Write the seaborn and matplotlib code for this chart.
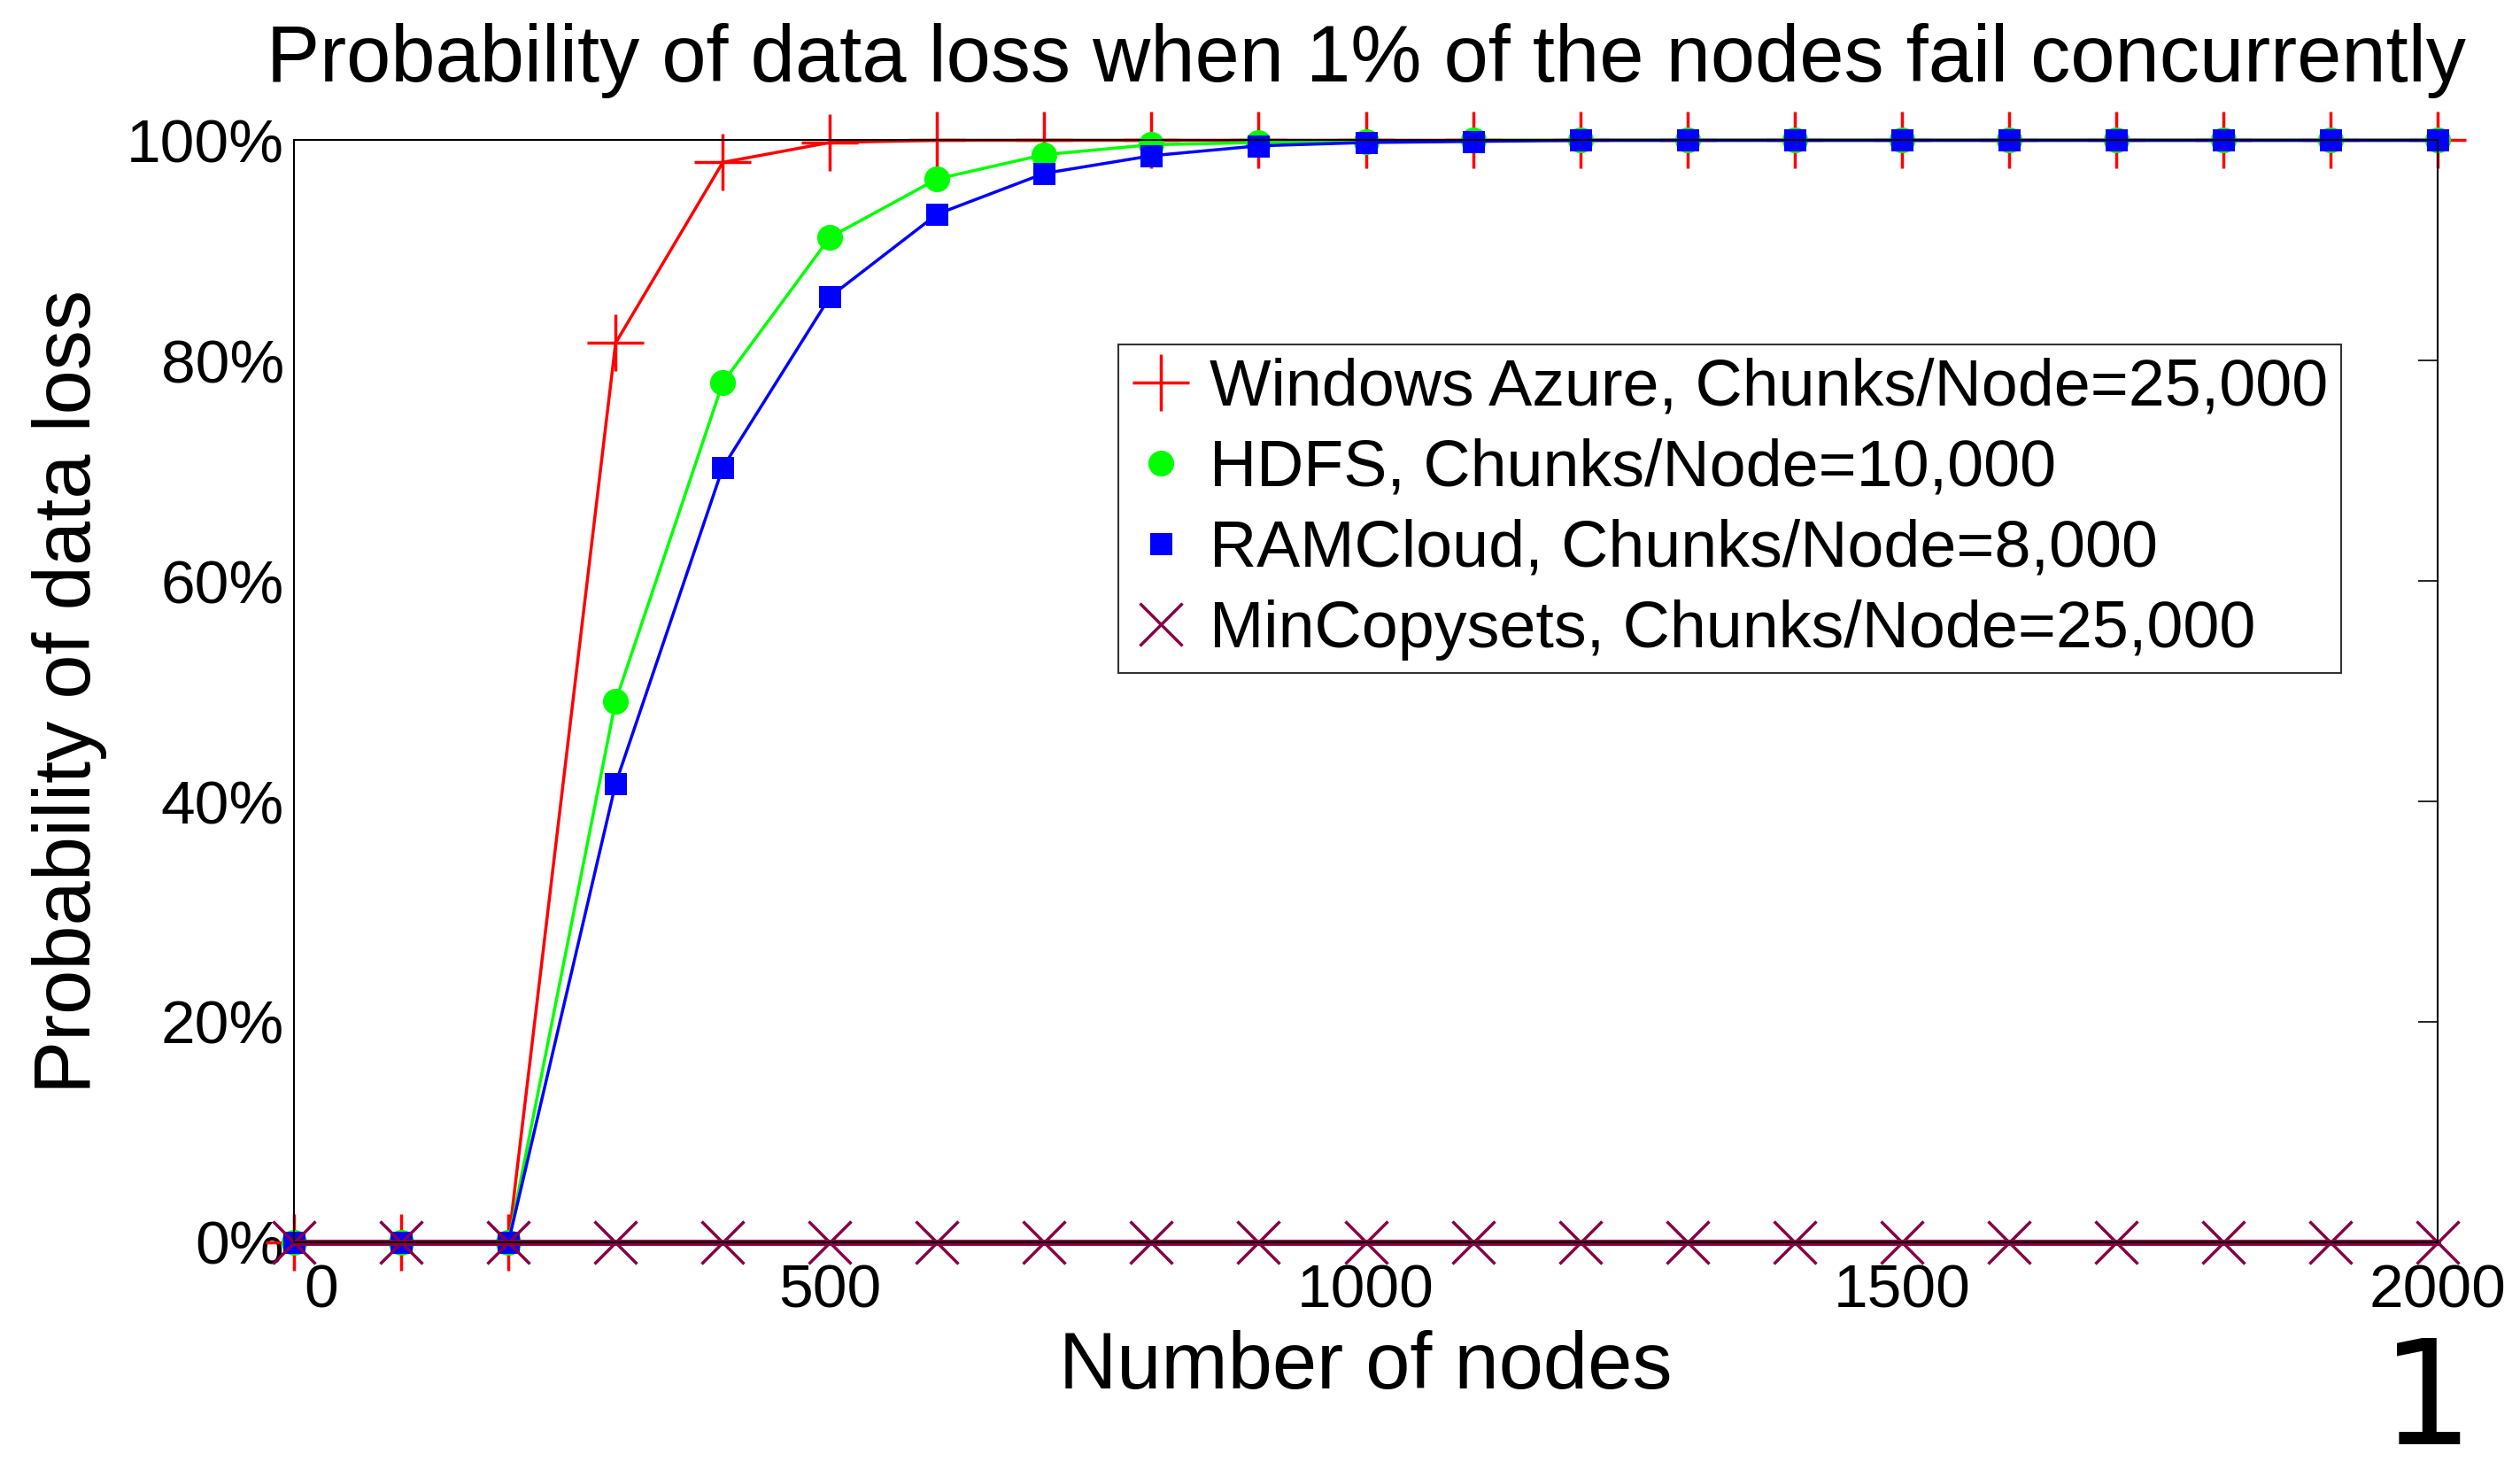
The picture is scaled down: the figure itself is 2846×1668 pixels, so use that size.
import matplotlib
matplotlib.use("Agg")
import matplotlib.pyplot as plt
from matplotlib.lines import Line2D
import matplotlib.transforms as mtransforms
import seaborn as sns
import numpy as np

# ---- data ----
nodes = [0, 100, 200, 300, 400, 500, 600, 700, 800, 900, 1000,
         1100, 1200, 1300, 1400, 1500, 1600, 1700, 1800, 1900, 2000]
azure = [0, 0, 0, 0.816, 0.980, 0.998, 1, 1, 1, 1, 1,
         1, 1, 1, 1, 1, 1, 1, 1, 1, 1]
hdfs = [0, 0, 0, 0.491, 0.780, 0.912, 0.965, 0.987, 0.996, 0.998, 0.999,
        1, 1, 1, 1, 1, 1, 1, 1, 1, 1]
ramcloud = [0, 0, 0, 0.416, 0.703, 0.858, 0.933, 0.970, 0.986, 0.995, 0.998,
            0.999, 1, 1, 1, 1, 1, 1, 1, 1, 1]
mincopysets = [0] * 21

series_labels = ["Windows Azure, Chunks/Node=25,000",
                 "HDFS, Chunks/Node=10,000",
                 "RAMCloud, Chunks/Node=8,000",
                 "MinCopysets, Chunks/Node=25,000"]
x_ticks = [0, 500, 1000, 1500, 2000]
y_ticks = [0, 0.2, 0.4, 0.6, 0.8, 1.0]
y_tick_labels = ["0%", "20%", "40%", "60%", "80%", "100%"]
title = "Probability of data loss when 1% of the nodes fail concurrently"
xlabel = "Number of nodes"
ylabel = "Probability of data loss"

sns.set_style("white")
plt.rcParams["font.family"] = ["Liberation Sans", "DejaVu Sans"]
plt.rcParams["xtick.direction"] = "in"
plt.rcParams["ytick.direction"] = "in"
plt.rcParams["text.color"] = "black"
plt.rcParams["axes.labelcolor"] = "black"
plt.rcParams["xtick.color"] = "black"
plt.rcParams["ytick.color"] = "black"

fig = plt.figure(figsize=(28.46, 16.68), dpi=100)
ax = fig.add_axes([0.1167, 0.159, 0.8506, 0.746])

styles = [
    dict(data=azure, color="#FF0000", marker="+", ms=46, mew=2.5, lw=2.5),
    dict(data=hdfs, color="#00FF00", marker="o", ms=21, mew=0, lw=2.5),
    dict(data=ramcloud, color="#0000FF", marker="s", ms=18, mew=0, lw=2.5),
    dict(data=mincopysets, color="#880044", marker="x", ms=34, mew=2.5, lw=5),
]
handles = []
for st, lab in zip(styles, series_labels):
    sns.lineplot(x=nodes, y=st["data"], ax=ax, color=st["color"],
                 marker=st["marker"], markersize=st["ms"],
                 markeredgewidth=st["mew"], markeredgecolor=st["color"],
                 markerfacecolor=st["color"], linewidth=st["lw"],
                 clip_on=False, legend=False)
    handles.append(Line2D([], [], linestyle="none", color=st["color"],
                          marker=st["marker"], markersize=st["ms"],
                          markeredgewidth=st["mew"],
                          markeredgecolor=st["color"],
                          markerfacecolor=st["color"], label=lab))

ax.set_xlim(0, 2000)
ax.set_ylim(0, 1)
ax.set_xticks(x_ticks)
ax.set_xticklabels([str(t) for t in x_ticks])
ax.set_yticks(y_ticks)
ax.set_yticklabels(y_tick_labels)
ax.tick_params(axis="both", which="both", top=True, right=True,
               length=16, width=1.2, color="black")
ax.tick_params(axis="x", labelsize=50, pad=17)
ax.tick_params(axis="y", labelsize=50, pad=8)
for sp in ax.spines.values():
    sp.set_color("black")
    sp.set_linewidth(1.5)

# shift the "0" label right a little, as in the reference
first = ax.get_xticklabels()[0]
first.set_transform(first.get_transform() +
                    mtransforms.ScaledTranslation(0.3, 0, fig.dpi_scale_trans))

ax.set_title(title, fontsize=65, pad=48)
ax.set_xlabel(xlabel, fontsize=65, labelpad=8)
ax.set_ylabel(ylabel, fontsize=65, labelpad=16)

leg = ax.legend(handles=handles, loc="upper right",
                bbox_to_anchor=(0.955, 0.815), borderaxespad=0,
                fontsize=53, frameon=True, fancybox=False,
                handlelength=0.9, handletextpad=0.3, labelspacing=0.3,
                borderpad=0.2)
leg.get_frame().set_edgecolor("black")
leg.get_frame().set_linewidth(1.5)

fig.text(0.963, 0.002, "1", fontsize=118, family="DejaVu Sans",
         ha="center", va="bottom")

fig.savefig("out.png", dpi=100, facecolor="white")
